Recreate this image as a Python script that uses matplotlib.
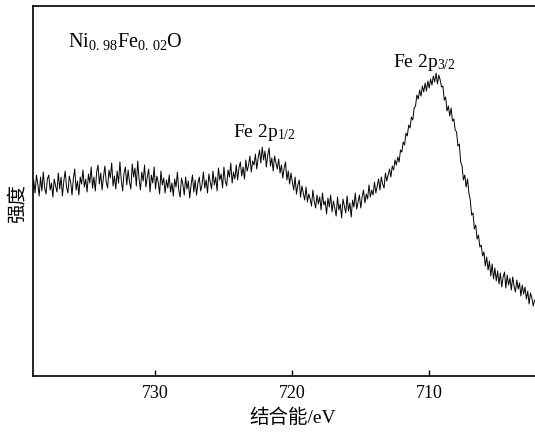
import numpy as np
import matplotlib
matplotlib.use("Agg")
import matplotlib.pyplot as plt

plt.rcParams['font.family'] = ['Liberation Serif', 'Noto Sans CJK SC']
plt.rcParams['mathtext.fontset'] = 'custom'
plt.rcParams['mathtext.rm'] = 'Liberation Serif'
plt.rcParams['mathtext.it'] = 'Liberation Serif'

# 结合能 (eV), 0.1 eV 步长
energy_start = 739.0
energy_step = 0.1
# 强度 (任意单位)
intensity = [
    178, 196, 183, 201, 192, 180, 199, 185, 204, 188,
    182, 197, 201, 186, 193, 179, 197, 190, 184, 203,
    187, 199, 180, 195, 205, 189, 183, 200, 194, 181,
    198, 207, 186, 195, 181, 199, 192, 206, 189, 197,
    184, 202, 193, 209, 188, 199, 185, 204, 211, 192,
    203, 186, 199, 210, 194, 188, 206, 198, 213, 190,
    200, 187, 205, 193, 214, 196, 185, 203, 209, 191,
    206, 194, 187, 212, 199, 208, 190, 215, 197, 186,
    204, 195, 211, 189, 199, 207, 184, 201, 193, 209,
    187, 200, 194, 182, 205, 191, 198, 183, 196, 188,
    201, 184, 193, 180, 197, 189, 204, 186, 179, 198,
    192, 181, 199, 187, 195, 178, 191, 201, 184, 196,
    181, 193, 199, 185, 191, 204, 188, 196, 183, 202,
    194, 187, 205, 191, 199, 185, 208, 196, 202, 188,
    209, 195, 190, 206, 199, 213, 193, 204, 197, 211,
    196, 208, 214, 200, 209, 197, 216, 205, 211, 220,
    204, 215, 211, 222, 207, 218, 226, 213, 229, 216,
    225, 209, 221, 228, 210, 218, 205, 220, 213, 207,
    217, 203, 211, 198, 208, 214, 196, 205, 192, 203,
    194, 186, 199, 182, 191, 196, 179, 190, 183, 176,
    189, 174, 182, 177, 170, 186, 175, 168, 181, 172,
    179, 166, 183, 171, 175, 162, 178, 169, 181, 164,
    175, 168, 160, 179, 166, 172, 158, 177, 170, 163,
    180, 165, 173, 159, 176, 169, 183, 167, 174, 181,
    168, 179, 186, 173, 182, 177, 191, 179, 186, 181,
    194, 183, 190, 197, 186, 199, 192, 188, 203, 195,
    201, 207, 199, 210, 206, 216, 211, 219, 214, 226,
    224, 234, 231, 243, 240, 251, 248, 259, 256, 268,
    270, 281, 277, 286, 280, 290, 284, 293, 285, 295,
    288, 297, 291, 300, 294, 303, 292, 301, 296, 289,
    290, 276, 279, 265, 270, 260, 268, 255, 257, 246,
    244, 230, 232, 214, 210, 196, 201, 189, 197, 183,
    176, 161, 163, 147, 151, 137, 141, 129, 131, 120,
    124, 110, 119, 106, 115, 100, 112, 97, 108, 95,
    105, 92, 103, 89, 99, 104, 88, 101, 91, 98,
    86, 99, 90, 84, 96, 87, 93, 80, 91, 82,
    89, 77, 85, 72, 83, 78, 70, 76,
]
energy = energy_start - energy_step * np.arange(len(intensity))

fig = plt.figure(figsize=(5.35, 4.39), dpi=100)
ax = fig.add_axes([0.0617, 0.1412, 0.9383, 0.8428])

ax.plot(energy, intensity, color='black', lw=0.7)

ax.set_xlim(738.95, 702.27)
ax.set_ylim(0, 370)
ax.set_xticks([730, 720, 710])
ax.set_yticks([])
ax.tick_params(axis='x', direction='in', length=4.5, width=1.0,
               labelsize=13, pad=6)
for s in ['left', 'top', 'bottom']:
    ax.spines[s].set_linewidth(1.2)
ax.spines['right'].set_visible(False)

ax.set_xlabel('结合能/eV', fontsize=14)
ax.xaxis.set_label_coords(0.518, -0.085)
ax.set_ylabel('强度', fontsize=14)
ax.yaxis.set_label_coords(-0.012, 0.47)

ax.text(736.4, 330, r'Ni$_{0.\,98}$Fe$_{0.\,02}$O', fontsize=14.5, va='baseline')
ax.text(724.35, 240, r'Fe 2p$_{1/2}$', fontsize=14, va='baseline')
ax.text(712.63, 310, r'Fe 2p$_{3/2}$', fontsize=14, va='baseline')

fig.savefig('out.png', dpi=100)
